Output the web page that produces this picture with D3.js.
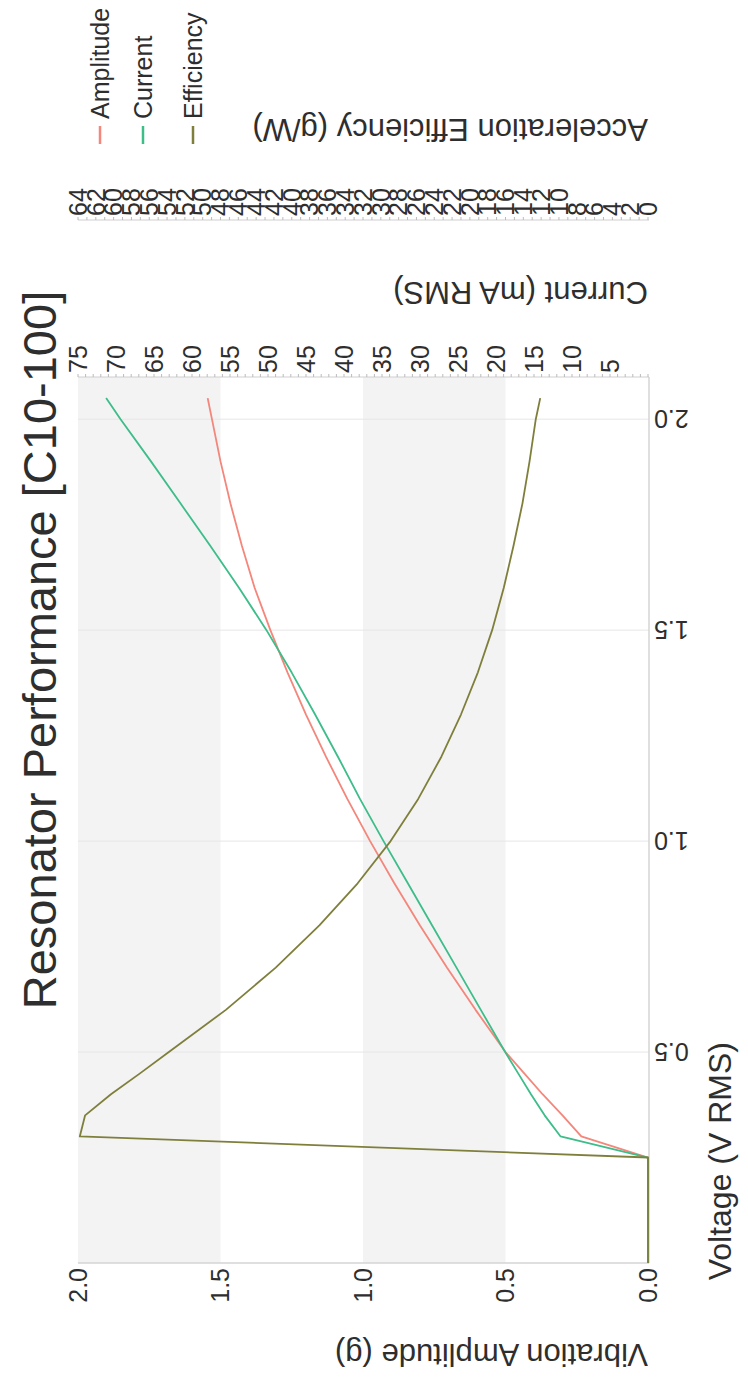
<!DOCTYPE html>
<html>
<head>
<meta charset="utf-8">
<script src="https://cdn.jsdelivr.net/npm/d3@7"></script>
<style>
  body { margin: 0; background: #fff; }
  text { font-family: "Liberation Sans", Arial, sans-serif; fill: #2e2e2e; }
</style>
</head>
<body>
<script>
const voltage   = [0, 0.25, 0.3, 0.35, 0.4, 0.45, 0.5, 0.6, 0.7, 0.8, 0.9, 1.0, 1.1, 1.2, 1.3, 1.4, 1.5, 1.6, 1.7, 1.8, 1.9, 2.0, 2.05];
const amplitude = [0, 0, 0.234, 0.30, 0.37, 0.435, 0.50, 0.605, 0.705, 0.80, 0.89, 0.975, 1.055, 1.13, 1.20, 1.265, 1.325, 1.38, 1.425, 1.465, 1.50, 1.53, 1.545];
const current   = [0, 0, 11.5, 13.6, 15.4, 17.1, 18.8, 22.0, 25.2, 28.4, 31.6, 34.8, 37.9, 40.8, 43.8, 46.9, 50.2, 53.8, 57.6, 61.5, 65.4, 69.4, 71.3];
const efficiency = [0, 0, 63.8, 63.2, 60.3, 57.0, 53.8, 47.4, 41.8, 36.9, 32.6, 28.9, 25.8, 23.2, 21.0, 19.1, 17.5, 16.2, 15.1, 14.1, 13.3, 12.6, 12.1];

const voltTicks = [0.5, 1.0, 1.5, 2.0];
const ampTicks = [0, 0.5, 1.0, 1.5, 2.0];
const seriesNames = ["Amplitude", "Current", "Efficiency"];
const colors = ["#f4867b", "#3dbd8a", "#7f7f3c"];

const w = 748, h = 1381;
const pLeft = 78, pRight = 649, pTop = 377, pBottom = 1263;

const svg = d3.select("body").append("svg")
  .attr("width", w).attr("height", h);

// chart is drawn turned on its side: voltage runs up the page
const y = d3.scaleLinear().domain([0, 2.1]).range([pBottom, pTop]);
const xAmp = d3.scaleLinear().domain([0, 2]).range([pRight - 1, pLeft]);
const xCur = d3.scaleLinear().domain([0, 75]).range([pRight - 1, pLeft]);
const xEff = d3.scaleLinear().domain([0, 64]).range([pRight - 1, pLeft]);

// alternating bands
svg.selectAll("rect.band")
  .data([[0.5, 1.0], [1.5, 2.0]])
  .enter().append("rect")
  .attr("class", "band")
  .attr("x", d => xAmp(d[1]))
  .attr("y", pTop)
  .attr("width", d => xAmp(d[0]) - xAmp(d[1]))
  .attr("height", pBottom - pTop)
  .attr("fill", "#f3f3f3");

// voltage grid
svg.selectAll("line.grid")
  .data(voltTicks)
  .enter().append("line")
  .attr("class", "grid")
  .attr("x1", pLeft).attr("x2", pRight)
  .attr("y1", d => y(d)).attr("y2", d => y(d))
  .attr("stroke", "#e6e6e6").attr("stroke-width", 1);

// frame lines
svg.append("line").attr("x1", pRight).attr("x2", pRight).attr("y1", pTop).attr("y2", pBottom)
  .attr("stroke", "#d4d4d4").attr("stroke-width", 1.5);
svg.append("line").attr("x1", pLeft).attr("x2", pRight).attr("y1", pBottom).attr("y2", pBottom)
  .attr("stroke", "#d4d4d4").attr("stroke-width", 1.5);

// lines
const rows = voltage.map((v, i) => ({v: v, a: amplitude[i], c: current[i], e: efficiency[i]}));
const lines = [
  d3.line().x(d => xAmp(d.a)).y(d => y(d.v)),
  d3.line().x(d => xCur(d.c)).y(d => y(d.v)),
  d3.line().x(d => xEff(d.e)).y(d => y(d.v))
];
lines.forEach((ln, i) => {
  svg.append("path")
    .datum(rows)
    .attr("d", ln)
    .attr("fill", "none")
    .attr("stroke", colors[i])
    .attr("stroke-width", 1.8)
    .attr("stroke-linejoin", "round");
});

// voltage tick labels (upside down)
svg.selectAll("text.vtick")
  .data(voltTicks)
  .enter().append("text")
  .attr("class", "vtick")
  .attr("transform", d => "translate(654," + y(d) + ") rotate(180)")
  .attr("text-anchor", "end")
  .attr("dy", "0.35em")
  .style("font-size", "25px")
  .text(d => d3.format(".1f")(d));

// amplitude tick labels
svg.selectAll("text.atick")
  .data(ampTicks)
  .enter().append("text")
  .attr("class", "atick")
  .attr("transform", d => "translate(" + xAmp(d) + "," + (pBottom + 5) + ") rotate(-90)")
  .attr("text-anchor", "end")
  .attr("dy", "0.35em")
  .style("font-size", "25px")
  .text(d => d3.format(".1f")(d));

// top axes: current and efficiency
function sideAxis(scale, maxV, labelStep, yPos) {
  const g = svg.append("g");
  g.append("line").attr("x1", pLeft).attr("x2", pRight).attr("y1", yPos).attr("y2", yPos)
    .attr("stroke", "#cfcfcf").attr("stroke-width", 1);
  g.selectAll("line.tk")
    .data(d3.range(0, maxV + 1))
    .enter().append("line")
    .attr("class", "tk")
    .attr("x1", d => scale(d)).attr("x2", d => scale(d))
    .attr("y1", yPos).attr("y2", yPos - 3)
    .attr("stroke", "#bbb");
  g.selectAll("text")
    .data(d3.range(labelStep === 5 ? 5 : 0, maxV + 1, labelStep))
    .enter().append("text")
    .attr("transform", d => "translate(" + scale(d) + "," + (yPos - 4) + ") rotate(-90)")
    .attr("text-anchor", "start")
    .attr("dy", "0.35em")
    .style("font-size", "25px")
    .text(d => d);
}
sideAxis(xCur, 75, 5, pTop);
sideAxis(xEff, 64, 2, 220);

// axis titles
svg.append("text")
  .attr("transform", "translate(40,650) rotate(-90)")
  .attr("text-anchor", "middle").attr("dy", "0.35em")
  .style("font-size", "47px")
  .text("Resonator Performance [C10-100]");

svg.append("text")
  .attr("transform", "translate(720,1042) rotate(-90)")
  .attr("text-anchor", "end").attr("dy", "0.35em")
  .style("font-size", "32px")
  .text("Voltage (V RMS)");

svg.append("text")
  .attr("transform", "translate(648,1355) rotate(180)")
  .attr("text-anchor", "start").attr("dy", "0.35em")
  .style("font-size", "31px")
  .text("Vibration Amplitude (g)");

svg.append("text")
  .attr("transform", "translate(648,293) rotate(180)")
  .attr("text-anchor", "start").attr("dy", "0.35em")
  .style("font-size", "31px")
  .text("Current (mA RMS)");

svg.append("text")
  .attr("transform", "translate(648,130) rotate(180)")
  .attr("text-anchor", "start").attr("dy", "0.35em")
  .style("font-size", "31px")
  .text("Acceleration Efficiency (g/W)");

// legend
const legendX = [100, 143, 193];
const legend = svg.selectAll("g.legend")
  .data(seriesNames)
  .enter().append("g")
  .attr("class", "legend");
legend.append("line")
  .attr("x1", (d, i) => legendX[i]).attr("x2", (d, i) => legendX[i])
  .attr("y1", 126).attr("y2", 144)
  .attr("stroke", (d, i) => colors[i])
  .attr("stroke-width", 2.5);
legend.append("text")
  .attr("transform", (d, i) => "translate(" + legendX[i] + ",119) rotate(-90)")
  .attr("text-anchor", "start").attr("dy", "0.35em")
  .style("font-size", "25px")
  .text(d => d);
</script>
</body>
</html>
